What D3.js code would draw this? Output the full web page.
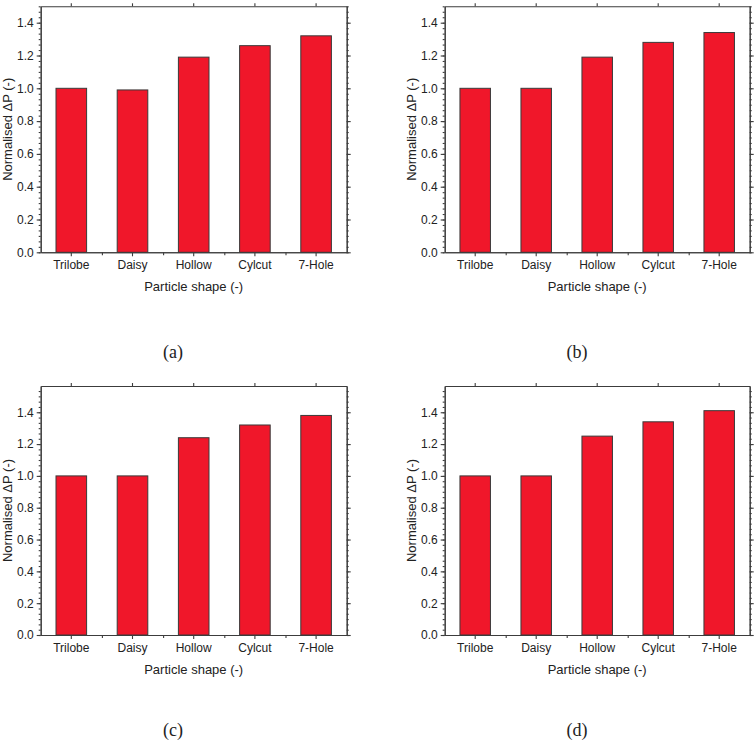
<!DOCTYPE html>
<html>
<head>
<meta charset="utf-8">
<script src="https://cdn.jsdelivr.net/npm/d3@7"></script>
<style>
  html, body { margin: 0; padding: 0; background: #fff; }
  svg { display: block; }
</style>
</head>
<body>
<svg id="chart" width="756" height="742"></svg>
<script>
const categories = ["Trilobe", "Daisy", "Hollow", "Cylcut", "7-Hole"];
const valuesA = [1.00, 0.99, 1.19, 1.26, 1.32];
const valuesB = [1.00, 1.00, 1.19, 1.28, 1.34];
const valuesC = [1.00, 1.00, 1.24, 1.32, 1.38];
const valuesD = [1.00, 1.00, 1.25, 1.34, 1.41];
const yTicks = [0.0, 0.2, 0.4, 0.6, 0.8, 1.0, 1.2, 1.4];
const panelLabels = ["(a)", "(b)", "(c)", "(d)"];
const xTitle = "Particle shape (-)";
const yTitle = "Normalised \u0394P (-)";

const svg = d3.select("#chart");
const AXIS = "#3c3c3c";
const FILL = "#f0172a";
const SANS = "'Liberation Sans', Arial, sans-serif";
const SERIF = "'Liberation Serif', 'DejaVu Serif', serif";

const panels = [
  { values: valuesA, yMax: 1.5,   left: 40.7,  right: 346.7, bottom: 252.3, label: panelLabels[0], lx: 173, ly: 352 },
  { values: valuesB, yMax: 1.5,   left: 444.7, right: 749.7, bottom: 252.3, label: panelLabels[1], lx: 577, ly: 352 },
  { values: valuesC, yMax: 1.565, left: 40.7,  right: 346.7, bottom: 635,   label: panelLabels[2], lx: 173, ly: 730 },
  { values: valuesD, yMax: 1.565, left: 444.7, right: 749.7, bottom: 635,   label: panelLabels[3], lx: 577, ly: 730 }
];

function drawPanel(p, unitPx) {
  const top = p.bottom - p.yMax * unitPx;
  const g = svg.append("g");
  const x = d3.scaleBand().domain(categories).range([p.left, p.right])
    .paddingInner(0.5).paddingOuter(0.25);
  const xb = d3.scaleLinear().domain([0, categories.length]).range([p.left, p.right]);
  const y = d3.scaleLinear().domain([0, p.yMax]).range([p.bottom, top]);
  const minor = d3.range(0, p.yMax + 1e-6, 0.2 / 6);

  g.append("g").selectAll("rect").data(p.values).join("rect")
    .attr("x", (d, i) => x(categories[i]))
    .attr("y", d => y(d))
    .attr("width", x.bandwidth())
    .attr("height", d => y(0) - y(d))
    .attr("fill", FILL)
    .attr("stroke", "#3a3a3a")
    .attr("stroke-width", 1);

  function style(sel) {
    sel.selectAll("path").attr("stroke", AXIS).attr("stroke-width", 1.1);
    sel.selectAll("line").attr("stroke", AXIS).attr("stroke-width", 1.1);
    sel.selectAll("text").attr("fill", "#222").style("font-family", SANS).style("font-size", "12px");
  }

  g.append("g").attr("transform", `translate(${p.left},0)`)
    .call(d3.axisLeft(y).tickValues(minor).tickSize(2).tickSizeOuter(0).tickFormat(""))
    .call(style);
  g.append("g").attr("transform", `translate(${p.left},0)`)
    .call(d3.axisLeft(y).tickValues(yTicks).tickSize(4).tickSizeOuter(0).tickPadding(3).tickFormat(d3.format(".1f")))
    .call(style);
  g.append("g").attr("transform", `translate(${p.right},0)`)
    .call(d3.axisRight(y).tickValues(minor).tickSize(2).tickSizeOuter(0).tickFormat(""))
    .call(style);
  g.append("g").attr("transform", `translate(${p.right},0)`)
    .call(d3.axisRight(y).tickValues(yTicks).tickSize(4).tickSizeOuter(0).tickFormat(""))
    .call(style);
  g.append("g").attr("transform", `translate(0,${top})`)
    .call(d3.axisTop(x).tickSize(3).tickSizeOuter(0).tickFormat(""))
    .call(style);
  g.append("g").attr("transform", `translate(0,${p.bottom})`)
    .call(d3.axisBottom(xb).tickValues([1, 2, 3, 4]).tickSize(3).tickSizeOuter(0).tickFormat(""))
    .call(style);
  g.append("g").attr("transform", `translate(0,${p.bottom})`)
    .call(d3.axisBottom(x).tickSize(4).tickSizeOuter(0).tickPadding(4))
    .call(style);

  g.append("text")
    .attr("x", (p.left + p.right) / 2)
    .attr("y", p.bottom + 39)
    .attr("text-anchor", "middle")
    .style("font-family", SANS).style("font-size", "13px").attr("fill", "#222")
    .text(xTitle);
  g.append("text")
    .attr("transform", `translate(${p.left - 29},${(top + p.bottom) / 2}) rotate(-90)`)
    .attr("text-anchor", "middle")
    .style("font-family", SANS).style("font-size", "13px").attr("fill", "#222")
    .text(yTitle);

  svg.append("text")
    .attr("x", p.lx).attr("y", p.ly)
    .attr("text-anchor", "middle").attr("dominant-baseline", "central")
    .style("font-family", SERIF).style("font-size", "18px").attr("fill", "#222")
    .text(p.label);
}

drawPanel(panels[0], 164);
drawPanel(panels[1], 164);
drawPanel(panels[2], 159.1);
drawPanel(panels[3], 159.1);
</script>
</body>
</html>
